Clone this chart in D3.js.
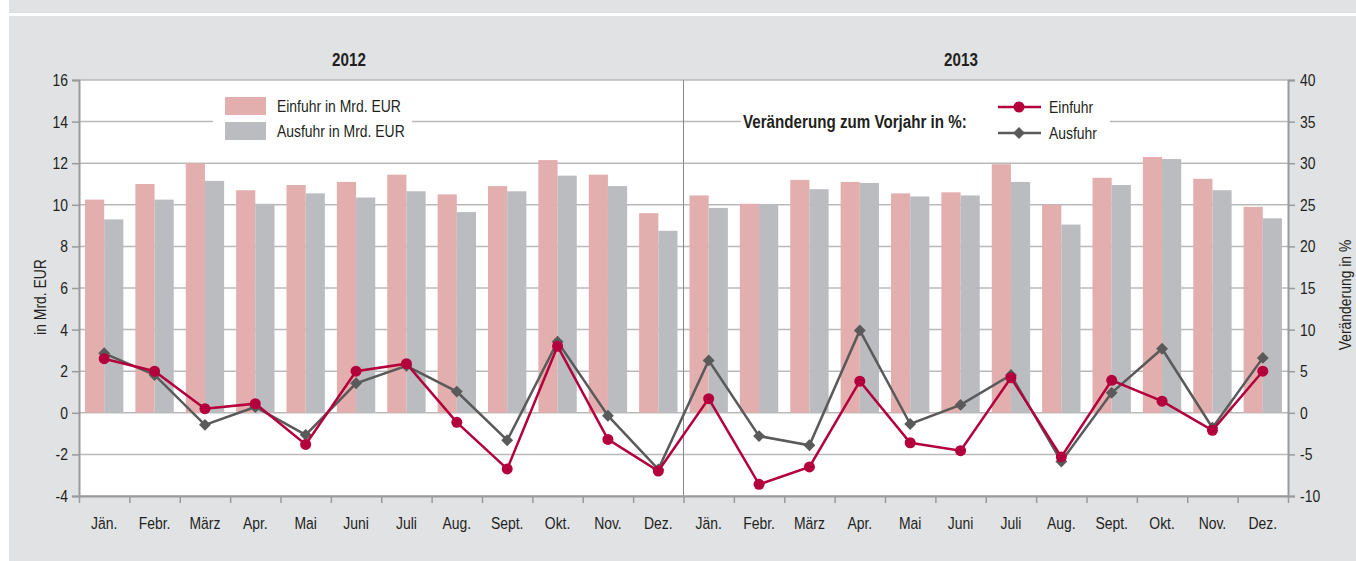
<!DOCTYPE html>
<html>
<head>
<meta charset="utf-8">
<script src="https://cdn.jsdelivr.net/npm/d3@7"></script>
<style>
  body { margin: 0; background: #fff; }
  svg text { font-family: "Liberation Sans", Arial, sans-serif; fill: #231f20; }
</style>
</head>
<body>
<div class="chart"></div>
<script>
const months = ['Jän.', 'Febr.', 'März', 'Apr.', 'Mai', 'Juni', 'Juli', 'Aug.', 'Sept.', 'Okt.', 'Nov.', 'Dez.'];
const years = ['2012', '2013'];
// Mrd. EUR, left axis
const einfuhrMrd = [10.25, 11.0, 12.0, 10.7, 10.95, 11.1, 11.45, 10.5, 10.9, 12.15, 11.45, 9.6,
                    10.45, 10.05, 11.2, 11.1, 10.55, 10.6, 11.95, 10.0, 11.3, 12.3, 11.25, 9.9];
const ausfuhrMrd = [9.3, 10.25, 11.15, 10.05, 10.55, 10.35, 10.65, 9.65, 10.65, 11.4, 10.9, 8.75,
                    9.85, 10.0, 10.75, 11.05, 10.4, 10.45, 11.1, 9.05, 10.95, 12.2, 10.7, 9.35];
// Veränderung zum Vorjahr in %, right axis
const einfuhrPct = [6.5, 5.0, 0.5, 1.1, -3.8, 5.0, 5.9, -1.15, -6.75, 8.0, -3.2, -7.0,
                    1.7, -8.6, -6.5, 3.8, -3.6, -4.55, 4.2, -5.3, 3.9, 1.4, -2.1, 5.0];
const ausfuhrPct = [7.15, 4.55, -1.45, 0.7, -2.65, 3.55, 5.65, 2.55, -3.3, 8.55, -0.35, -6.8,
                    6.3, -2.8, -3.9, 9.9, -1.35, 0.95, 4.55, -5.85, 2.4, 7.7, -1.8, 6.6];
const leftTicks = [-4, -2, 0, 2, 4, 6, 8, 10, 12, 14, 16];
const rightTicks = [-10, -5, 0, 5, 10, 15, 20, 25, 30, 35, 40];

const w = 1356, h = 561;
const pLeft = 79, pRight = 1288, pTop = 80, pBottom = 496;
const pink = '#e2aeae', grey = '#bbbcc0', red = '#b3003c', dark = '#5a5a5a';
const gridCol = '#b9b9b9', axisCol = '#9a9a9a';
const squeeze = 0.82; // condensed look

// squeeze text horizontally, keeping its anchor point
function narrow(sel) {
  sel.each(function () {
    const t = d3.select(this);
    const xv = +(t.attr('x') || 0);
    t.attr('x', xv / squeeze);
    t.attr('transform', (t.attr('transform') || '') + ' scale(' + squeeze + ',1)');
  });
  return sel;
}

const idx = d3.range(24);
const label = (i) => months[i % 12];

const svg = d3.select('div.chart').append('svg').attr('width', w).attr('height', h);

// background
svg.append('rect').attr('x', 9).attr('y', 0).attr('width', w - 9).attr('height', 13).attr('fill', '#e1e2e4');
svg.append('rect').attr('x', 9).attr('y', 16).attr('width', w - 9).attr('height', h - 16).attr('fill', '#e1e2e4');
svg.append('rect').attr('x', pLeft).attr('y', pTop).attr('width', pRight - pLeft).attr('height', pBottom - pTop).attr('fill', '#fff');

const x = d3.scaleBand().domain(idx).range([pLeft, pRight]);
const xLin = d3.scaleLinear().domain([0, 24]).range([pLeft, pRight]);
const xSub = d3.scaleBand().domain(['ein', 'aus']).range([6, x.bandwidth() - 6]);
const yL = d3.scaleLinear().domain([-4, 16]).range([pBottom, pTop]);
const yR = d3.scaleLinear().domain([-10, 40]).range([pBottom, pTop]);

// gridlines
svg.append('g').selectAll('line').data(leftTicks).enter().append('line')
  .attr('x1', pLeft).attr('x2', pRight)
  .attr('y1', (d) => yL(d)).attr('y2', (d) => yL(d))
  .attr('stroke', gridCol).attr('stroke-width', 1.5);

// bars
const bars = svg.append('g');
bars.selectAll('rect.ein').data(idx).enter().append('rect').attr('class', 'ein')
  .attr('x', (i) => x(i) + xSub('ein')).attr('width', xSub.bandwidth())
  .attr('y', (i) => yL(einfuhrMrd[i])).attr('height', (i) => yL(0) - yL(einfuhrMrd[i]))
  .attr('fill', pink);
bars.selectAll('rect.aus').data(idx).enter().append('rect').attr('class', 'aus')
  .attr('x', (i) => x(i) + xSub('aus')).attr('width', xSub.bandwidth())
  .attr('y', (i) => yL(ausfuhrMrd[i])).attr('height', (i) => yL(0) - yL(ausfuhrMrd[i]))
  .attr('fill', grey);

// legend backgrounds (cut the gridline)
svg.append('rect').attr('x', 213).attr('y', 92).attr('width', 199).attr('height', 52).attr('fill', '#fff');
svg.append('rect').attr('x', 741).attr('y', 92).attr('width', 369).attr('height', 52).attr('fill', '#fff');

// year divider
svg.append('line').attr('x1', xLin(12)).attr('x2', xLin(12)).attr('y1', pTop).attr('y2', pBottom)
  .attr('stroke', '#8a8a8a').attr('stroke-width', 1);

// axes
const fmt = (d) => String(d);
const axL = svg.append('g').attr('transform', 'translate(' + pLeft + ',0)')
  .call(d3.axisLeft(yL).tickValues(leftTicks).tickFormat(fmt).tickSize(7).tickPadding(4));
const axR = svg.append('g').attr('transform', 'translate(' + pRight + ',0)')
  .call(d3.axisRight(yR).tickValues(rightTicks).tickFormat(fmt).tickSize(7).tickPadding(5));
const axB = svg.append('g').attr('transform', 'translate(0,' + pBottom + ')')
  .call(d3.axisBottom(xLin).tickValues(d3.range(25)).tickFormat('').tickSize(7).tickSizeOuter(0));
const axLab = svg.append('g').attr('transform', 'translate(0,' + pBottom + ')')
  .call(d3.axisBottom(x).tickFormat(label).tickSize(0).tickPadding(21));
axLab.select('.domain').remove();

[axL, axR, axB].forEach((g) => {
  g.select('.domain').attr('stroke', axisCol).attr('stroke-width', 2);
  g.selectAll('.tick line').attr('stroke', axisCol).attr('stroke-width', 1.5);
});
[axL, axR, axLab].forEach((g) => {
  narrow(g.selectAll('.tick text').attr('font-size', 17).attr('fill', '#231f20')
    .style('font-family', '"Liberation Sans", Arial, sans-serif'));
});

// lines
const lineE = d3.line().x((i) => x(i) + x.bandwidth() / 2).y((i) => yR(einfuhrPct[i]));
const lineA = d3.line().x((i) => x(i) + x.bandwidth() / 2).y((i) => yR(ausfuhrPct[i]));
svg.append('path').datum(idx).attr('d', lineA).attr('fill', 'none').attr('stroke', dark).attr('stroke-width', 2.5);
svg.append('g').selectAll('path').data(idx).enter().append('path')
  .attr('d', d3.symbol().type(d3.symbolDiamond2).size(90))
  .attr('transform', (i) => 'translate(' + (x(i) + x.bandwidth() / 2) + ',' + yR(ausfuhrPct[i]) + ')')
  .attr('fill', dark);
svg.append('path').datum(idx).attr('d', lineE).attr('fill', 'none').attr('stroke', red).attr('stroke-width', 2.5);
svg.append('g').selectAll('circle').data(idx).enter().append('circle')
  .attr('cx', (i) => x(i) + x.bandwidth() / 2).attr('cy', (i) => yR(einfuhrPct[i]))
  .attr('r', 5.5).attr('fill', red);

// year labels
narrow(svg.selectAll('text.year').data(years).enter().append('text').attr('class', 'year')
  .attr('x', (d, j) => j === 0 ? 349 : 961).attr('y', 66)
  .attr('text-anchor', 'middle').attr('font-size', 18.5).attr('font-weight', 'bold')
  .text((d) => d));

// axis titles
narrow(svg.append('text').attr('transform', 'translate(46,297) rotate(-90)')
  .attr('text-anchor', 'middle').attr('font-size', 17).text('in Mrd. EUR'));
narrow(svg.append('text').attr('transform', 'translate(1351,295) rotate(-90)')
  .attr('text-anchor', 'middle').attr('font-size', 17).text('Veränderung in %'));

// legend: bars
svg.append('rect').attr('x', 225).attr('y', 97).attr('width', 41).attr('height', 18).attr('fill', pink);
svg.append('rect').attr('x', 225).attr('y', 122).attr('width', 41).attr('height', 18).attr('fill', grey);
narrow(svg.append('text').attr('x', 277).attr('y', 112).attr('font-size', 17).text('Einfuhr in Mrd. EUR'));
narrow(svg.append('text').attr('x', 277).attr('y', 137).attr('font-size', 17).text('Ausfuhr in Mrd. EUR'));

// legend: lines
narrow(svg.append('text').attr('x', 743).attr('y', 128).attr('font-size', 18.5).attr('font-weight', 'bold')
  .text('Veränderung zum Vorjahr in %:'));
svg.append('line').attr('x1', 998).attr('x2', 1041).attr('y1', 107).attr('y2', 107).attr('stroke', red).attr('stroke-width', 2.5);
svg.append('circle').attr('cx', 1019).attr('cy', 107).attr('r', 5.5).attr('fill', red);
svg.append('line').attr('x1', 998).attr('x2', 1041).attr('y1', 133).attr('y2', 133).attr('stroke', dark).attr('stroke-width', 2.5);
svg.append('path').attr('d', d3.symbol().type(d3.symbolDiamond2).size(90)).attr('transform', 'translate(1019,133)').attr('fill', dark);
narrow(svg.append('text').attr('x', 1049).attr('y', 113).attr('font-size', 17).text('Einfuhr'));
narrow(svg.append('text').attr('x', 1049).attr('y', 139).attr('font-size', 17).text('Ausfuhr'));
</script>
</body>
</html>
